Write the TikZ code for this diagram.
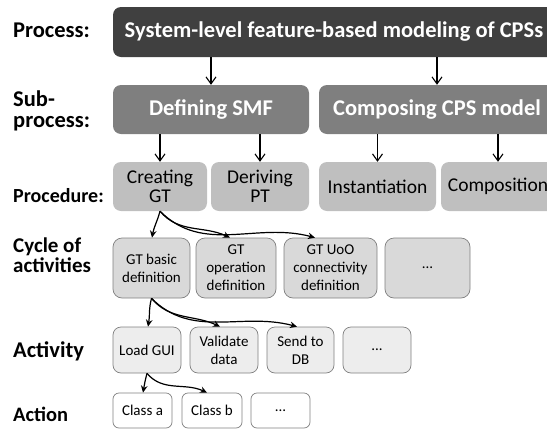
\documentclass[tikz,border=0pt]{standalone}
\usepackage{fontspec}
\setmainfont{Carlito}
\usetikzlibrary{arrows.meta,calc}
\definecolor{cproc}{HTML}{404040}
\definecolor{csub}{HTML}{7F7F7F}
\definecolor{cpcd}{HTML}{BFBFBF}
\definecolor{ccyc}{HTML}{D9D9D9}
\definecolor{cact}{HTML}{EDEDED}
\definecolor{cbord}{HTML}{808080}
\begin{document}
\begin{tikzpicture}[x=1pt,y=-1pt,
  box/.style={rectangle, rounded corners=8pt, inner sep=0pt, align=center},
  lvlproc/.style={box, fill=cproc, text=white, font=\bfseries\fontsize{22.5}{24}\selectfont},
  lvlsub/.style={box, fill=csub, text=white, font=\bfseries\fontsize{22.5}{24}\selectfont},
  lvlpcd/.style={box, fill=cpcd, text=black, font=\fontsize{19.5}{19.5}\selectfont},
  lvlcyc/.style={box, rounded corners=9pt, fill=ccyc, draw=cbord, line width=0.7pt, font=\fontsize{15}{18}\selectfont},
  lvlact/.style={box, rounded corners=8pt, fill=cact, draw=cbord, line width=0.7pt, font=\fontsize{15}{18}\selectfont},
  lvlaction/.style={box, rounded corners=6pt, fill=white, draw=cbord, line width=0.7pt, font=\fontsize{15}{18}\selectfont},
  lbl/.style={anchor=base west, inner sep=0pt, align=left, font=\bfseries\fontsize{22.5}{21}\selectfont},
  openarr/.style={line width=1.1pt, -{Straight Barb[length=7pt,width=10pt]}},
  curvarr/.style={line width=1.2pt, -{Stealth[length=7pt,width=6.5pt]}}
]
\useasboundingbox (0,0) rectangle (547,429);

% labels (base anchor = baseline of the last line)
\node[lbl] (lproc) at (13,37.5) {Process:};
\node[lbl] (lsub) at (13,127) {Sub-\\process:};
\node[lbl, font=\bfseries\fontsize{20}{20}\selectfont] (lpcd) at (13,202) {Procedure:};
\node[lbl, font=\bfseries\fontsize{21}{15.5}\selectfont] (lcyc) at (13,272) {Cycle of\\activities};
\node[lbl, font=\bfseries\fontsize{22.5}{22}\selectfont] (lact) at (13,357) {Activity};
\node[lbl, font=\bfseries\fontsize{20.5}{22}\selectfont] (laction) at (13,421) {Action};

% process
\node[lvlproc, minimum width=442pt, minimum height=50pt] (proc) at (334,32) {System-level feature-based modeling of CPSs};

% sub-processes
\node[lvlsub, minimum width=196pt, minimum height=49pt] (smf) at (211,109.5) {Defining SMF};
\node[lvlsub, minimum width=236pt, minimum height=49pt] (cps) at (437,109.5) {Composing CPS model};

% procedures
\node[lvlpcd, minimum width=94pt, minimum height=49pt] (cgt) at (160,186.5) {Creating\\GT};
\node[lvlpcd, minimum width=98pt, minimum height=49pt] (dpt) at (260,186.5) {Deriving\\PT};
\node[lvlpcd, minimum width=117pt, minimum height=49pt] (inst) at (377.5,186.5) {Instantiation};
\node[lvlpcd, minimum width=114pt, minimum height=49pt] (comp) at (498,186.5) {Composition};

% cycle of activities
\node[lvlcyc, minimum width=77pt, minimum height=60pt] (gtb) at (151.5,268) {GT basic\\definition};
\node[lvlcyc, minimum width=80pt, minimum height=60pt] (gtop) at (236,268) {GT\\operation\\definition};
\node[lvlcyc, minimum width=93pt, minimum height=60pt] (uoo) at (330.5,268) {GT UoO\\connectivity\\definition};
\node[lvlcyc, minimum width=85pt, minimum height=60pt] (cycdots) at (427.5,268) {...};

% activities
\node[lvlact, minimum width=68pt, minimum height=46pt] (load) at (147,350) {Load GUI};
\node[lvlact, minimum width=68pt, minimum height=46pt] (valid) at (224,350) {Validate\\data};
\node[lvlact, minimum width=67pt, minimum height=46pt] (send) at (300.5,350) {Send to\\DB};
\node[lvlact, minimum width=68pt, minimum height=46pt] (actdots) at (377,350) {...};

% actions
\node[lvlaction, minimum width=59pt, minimum height=35pt] (classa) at (142.5,410.5) {Class a};
\node[lvlaction, minimum width=60pt, minimum height=35pt] (classb) at (212,410.5) {Class b};
\node[lvlaction, minimum width=59pt, minimum height=35pt] (acndots) at (280.5,410.5) {...};

% straight arrows
\draw[openarr] (proc.south -| smf.north) -- (smf.north);
\draw[openarr] (proc.south -| cps.north) -- (cps.north);
\draw[openarr] (smf.south -| cgt.north) -- (cgt.north);
\draw[openarr] (smf.south -| dpt.north) -- (dpt.north);
\draw[openarr] (cps.south -| inst.north) -- (inst.north);
\draw[openarr] (cps.south -| comp.north) -- (comp.north);

% curved arrows
\draw[curvarr] (cgt.south) to[out=-105,in=80] ([xshift=0.5pt]gtb.north);
\draw[curvarr] (cgt.south) to[out=-50,in=155] ([xshift=-6pt]gtop.north);
\draw[curvarr] (cgt.south) to[out=-45,in=165] ([xshift=-15.5pt]uoo.north);

\draw[curvarr] (gtb.south) to[out=-105,in=80] ([xshift=1pt]load.north);
\draw[curvarr] (gtb.south) to[out=-50,in=155] ([xshift=-4pt]valid.north);
\draw[curvarr] (gtb.south) to[out=-45,in=165] ([xshift=-3.5pt]send.north);

\draw[curvarr] (load.south) to[out=-105,in=80] ([xshift=0.5pt]classa.north);
\draw[curvarr] (load.south) to[out=-50,in=155] ([xshift=-5pt]classb.north);
\end{tikzpicture}
\end{document}
